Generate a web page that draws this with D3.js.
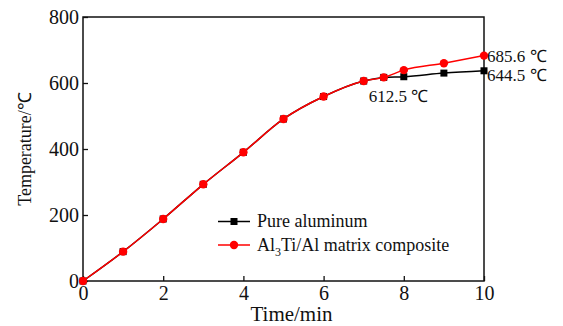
<!DOCTYPE html>
<html>
<head>
<meta charset="utf-8">
<script src="https://cdn.jsdelivr.net/npm/d3@7"></script>
<style>
  body { margin: 0; background: #fff; }
  svg text { font-family: "Liberation Serif", "Times New Roman", serif; fill: #111; }
</style>
</head>
<body>
<div id="chart"></div>
<script>
// time in minutes
const timeValues = [0, 1, 2, 3, 4, 5, 6, 7, 7.5, 8, 9, 10];
const pureAluminum = [0, 89, 188, 293, 390, 491, 559, 606, 617, 619, 630, 637];
const composite = [0, 89, 188, 293, 390, 491, 559, 606, 617, 639, 660, 683];
const xTicks = [0, 2, 4, 6, 8, 10];
const yTicks = [0, 200, 400, 600, 800];
const annotations = [
  { t: 10, v: 683, text: '685.6 ℃', dx: 3, dy: 6 },
  { t: 10, v: 637, text: '644.5 ℃', dx: 3, dy: 10 },
  { t: 7, v: 606, text: '612.5 ℃', dx: 5, dy: 21 },
];

const width = 563;
const height = 326;
const margin = { top: 17, right: 79, bottom: 45, left: 83 };

const svg = d3.select('#chart')
  .append('svg')
  .attr('width', width)
  .attr('height', height);

const xScale = d3.scaleLinear()
  .domain([0, 10])
  .range([margin.left, width - margin.right]);

const yScale = d3.scaleLinear()
  .domain([0, 800])
  .range([height - margin.bottom, margin.top]);

// frame
svg.append('rect')
  .attr('x', margin.left)
  .attr('y', margin.top)
  .attr('width', xScale(10) - xScale(0))
  .attr('height', yScale(0) - yScale(800))
  .attr('fill', 'none')
  .attr('stroke', '#111')
  .attr('stroke-width', 1.5);

// axes, ticks pointing inward
const xAxis = svg.append('g')
  .attr('transform', `translate(0, ${yScale(0)})`)
  .call(d3.axisBottom(xScale).tickValues(xTicks).tickSize(-5).tickPadding(2));

const yAxis = svg.append('g')
  .attr('transform', `translate(${xScale(0)}, 0)`)
  .call(d3.axisLeft(yScale).tickValues(yTicks).tickSize(-5).tickPadding(4));

[xAxis, yAxis].forEach(ax => {
  ax.select('.domain').remove();
  ax.selectAll('line').attr('stroke', '#111').attr('stroke-width', 1.3);
  ax.selectAll('text').style('font-size', '20px').attr('fill', '#111');
});
xAxis.selectAll('text').attr('dy', '0.85em');

// axis titles
svg.append('text')
  .attr('x', (xScale(0) + xScale(10)) / 2 + 8)
  .attr('y', 321)
  .attr('text-anchor', 'middle')
  .style('font-size', '21px')
  .text('Time/min');

svg.append('text')
  .attr('transform', `translate(31, ${yScale(400)}) rotate(-90)`)
  .attr('text-anchor', 'middle')
  .style('font-size', '18px')
  .text('Temperature/℃');

// series
const line = d3.line()
  .x((d, i) => xScale(timeValues[i]))
  .y(d => yScale(d))
  .curve(d3.curveMonotoneX);

svg.append('path')
  .datum(pureAluminum)
  .attr('d', line)
  .attr('fill', 'none')
  .attr('stroke', '#000')
  .attr('stroke-width', 1.5);

svg.append('g')
  .selectAll('rect')
  .data(pureAluminum)
  .join('rect')
  .attr('x', (d, i) => xScale(timeValues[i]) - 3.5)
  .attr('y', d => yScale(d) - 3.5)
  .attr('width', 7)
  .attr('height', 7)
  .attr('fill', '#000');

svg.append('path')
  .datum(composite)
  .attr('d', line)
  .attr('fill', 'none')
  .attr('stroke', '#f00')
  .attr('stroke-width', 1.5);

svg.append('g')
  .selectAll('circle')
  .data(composite)
  .join('circle')
  .attr('cx', (d, i) => xScale(timeValues[i]))
  .attr('cy', d => yScale(d))
  .attr('r', 4.2)
  .attr('fill', '#f00');

// value labels
svg.append('g')
  .selectAll('text')
  .data(annotations)
  .join('text')
  .attr('x', d => xScale(d.t) + d.dx)
  .attr('y', d => yScale(d.v) + d.dy)
  .style('font-size', '17px')
  .text(d => d.text);

// legend
const legend = svg.append('g');
const legendItems = [
  { color: '#000', y: 221.5 },
  { color: '#f00', y: 245 },
];
legend.selectAll('line')
  .data(legendItems)
  .join('line')
  .attr('x1', 218).attr('x2', 250)
  .attr('y1', d => d.y).attr('y2', d => d.y)
  .attr('stroke', d => d.color)
  .attr('stroke-width', 1.5);
legend.append('rect')
  .attr('x', 230.5).attr('y', 218).attr('width', 7).attr('height', 7)
  .attr('fill', '#000');
legend.append('circle')
  .attr('cx', 234).attr('cy', 245).attr('r', 4.2)
  .attr('fill', '#f00');

legend.append('text')
  .attr('x', 257).attr('y', 227)
  .style('font-size', '18px')
  .text('Pure aluminum');

const t2 = legend.append('text')
  .attr('x', 257).attr('y', 251)
  .style('font-size', '18px');
t2.append('tspan').text('Al');
t2.append('tspan').attr('dy', 5).style('font-size', '12px').text('3');
t2.append('tspan').attr('dy', -5).text('Ti/Al matrix composite');
</script>
</body>
</html>
